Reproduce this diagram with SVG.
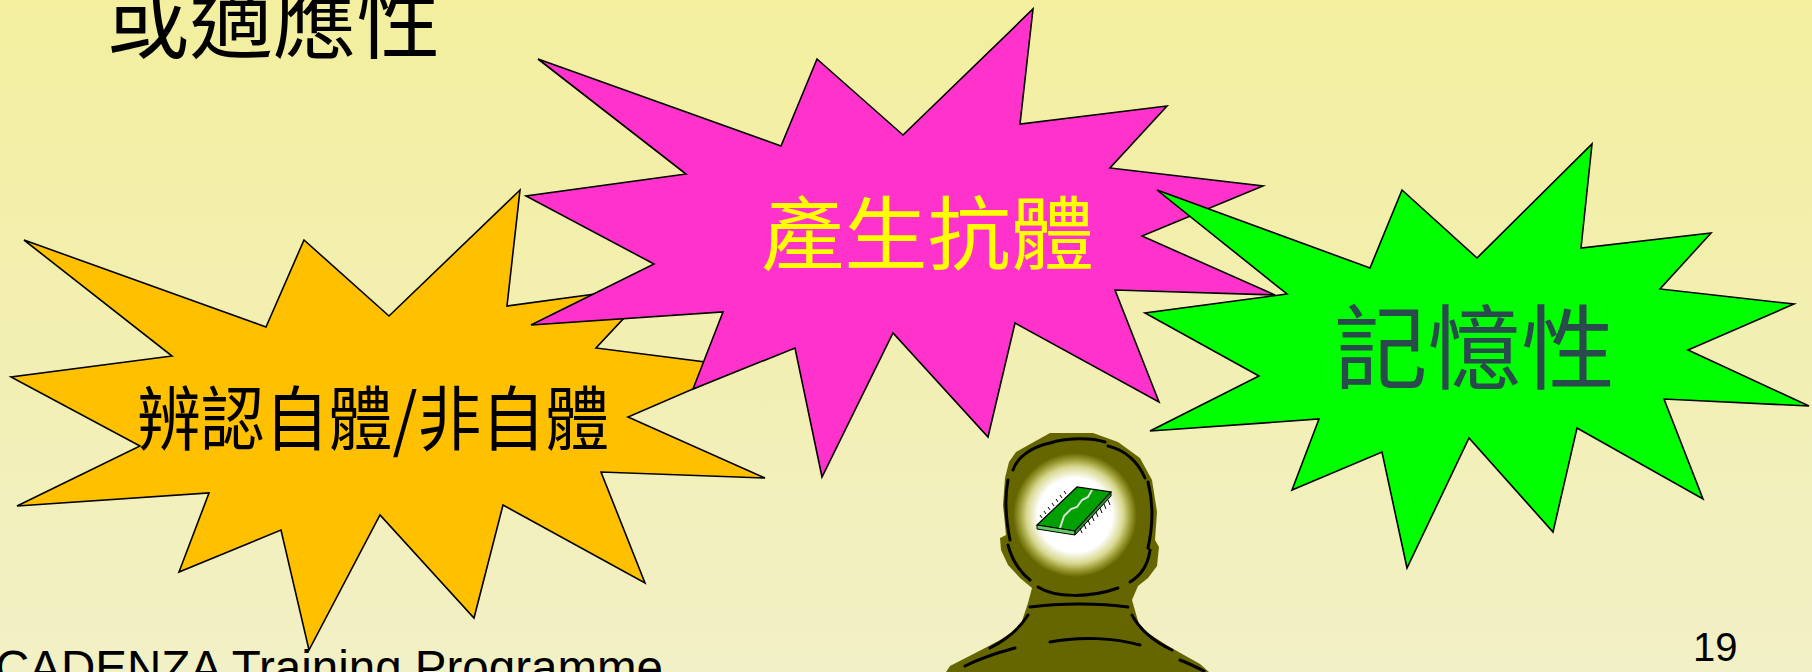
<svg xmlns="http://www.w3.org/2000/svg" width="1812" height="672" viewBox="0 0 1812 672">
  <defs>
    <linearGradient id="bg" x1="0" y1="0" x2="0" y2="1">
      <stop offset="0" stop-color="#F3EF9F"/>
      <stop offset="0.5" stop-color="#F2EFB2"/>
      <stop offset="1" stop-color="#F2F0C6"/>
    </linearGradient>
    <radialGradient id="glow" cx="0.5" cy="0.5" r="0.5">
      <stop offset="0" stop-color="#FFFFFF"/>
      <stop offset="0.6" stop-color="#FFFFFF"/>
      <stop offset="0.78" stop-color="#D8D890"/>
      <stop offset="0.9" stop-color="#9A9A33"/>
      <stop offset="1" stop-color="#666600"/>
    </radialGradient>
    <style>
      .star { stroke: #000; stroke-width: 1.6; stroke-linejoin: miter; }
      .cjk { font-family: "Noto Sans CJK TC", "Noto Sans CJK SC", sans-serif; }
      .ink { fill: none; stroke: #000; stroke-width: 3; stroke-linecap: round; stroke-linejoin: round; }
    </style>
  </defs>

  <!-- page background -->
  <rect x="0" y="0" width="1812" height="672" fill="url(#bg)"/>

  <!-- heading -->
  <text id="title" class="cjk" x="106" y="52" font-size="86" fill="#000" textLength="334" lengthAdjust="spacingAndGlyphs">或適應性</text>

  <!-- orange burst -->
  <g id="node-recognise">
    <polygon class="star" fill="#FFC000" points="24,240 266,327 304,240 389,316 520,190 507,306 654,286 596,348 744,367 628,417 765,478 601,472 645,583 503,505 474,618 380,515 309,650 281,530 179,572 209,493 17,506 140,446 11,377 172,356"/>
    <text class="cjk" x="137" y="445" font-size="70" fill="#000" textLength="472" lengthAdjust="spacingAndGlyphs">辨認自體/非自體</text>
  </g>

  <!-- magenta burst -->
  <g id="node-antibody">
    <polygon class="star" fill="#FF33CC" points="538,59 781,146 817,59 903,135 1033,9 1020,124 1167,106 1110,168 1263,186 1142,236 1275,295 1115,290 1159,402 1015,323 988,437 893,333 822,477 795,348 693,389 723,312 531,325 654,264 526,196 686,174"/>
    <text class="cjk" x="761" y="263" font-size="80" fill="#FFFF00" textLength="333" lengthAdjust="spacingAndGlyphs">產生抗體</text>
  </g>

  <!-- green burst -->
  <g id="node-memory">
    <polygon class="star" fill="#00FF00" points="1157,190 1287,294 1145,313 1259,376 1150,431 1319,419 1292,490 1382,452 1407,568 1469,438 1553,532 1577,428 1703,499 1664,399 1809,406 1688,350 1794,304 1660,289 1711,233 1581,248 1592,144 1477,258 1402,190 1370,268"/>
    <text class="cjk" x="1334" y="382" font-size="92" fill="#2A4B4B" textLength="281" lengthAdjust="spacingAndGlyphs">記憶性</text>
  </g>

  <!-- figure seen from behind, with a chip in the head -->
  <g id="thinker">
    <path fill="#666600" d="M946,672 L950,666 L985,648 L1000,640 L1020,627 L1028,603 L1032,588 L1020,578 L1008,565 L1001,550 L1000,538 L1006,535 L1003,505 L1005,478 L1009,462 L1016,452 L1032,443 L1050,433 L1093,433 L1118,442 L1140,458 L1152,480 L1157,512 L1155,540 L1159,547 L1157,566 L1148,578 L1138,586 L1132,600 L1140,628 L1168,646 L1200,664 L1209,672 Z"/>
    <circle cx="1075" cy="515" r="62" fill="url(#glow)"/>
    <!-- hair and contour strokes -->
    <path class="ink" d="M1013,470 C1018,455 1035,446 1050,443 C1065,438 1090,437 1105,442"/>
    <path class="ink" d="M1108,446 C1125,450 1138,462 1145,478"/>
    <path class="ink" d="M1008,480 C1004,500 1006,520 1010,540"/>
    <path class="ink" d="M1148,482 C1154,505 1152,530 1148,548"/>
    <path class="ink" d="M1008,545 C1012,560 1020,572 1030,580"/>
    <path class="ink" d="M1150,550 C1148,565 1140,576 1130,582"/>
    <path class="ink" d="M1038,587 C1055,598 1090,598 1118,588"/>
    <path class="ink" d="M1030,607 C1060,603 1100,603 1128,607"/>
    <path class="ink" d="M1028,615 C1020,628 1006,640 990,648"/>
    <path class="ink" d="M1132,615 C1140,630 1155,642 1172,650"/>
    <path class="ink" d="M1050,642 C1080,636 1115,638 1140,645"/>
    <path class="ink" d="M965,666 C985,656 1000,652 1015,648"/>
    <path class="ink" d="M1180,660 C1190,664 1198,668 1204,671"/>
    <!-- chip -->
    <g id="chip">
      <polygon points="1037,525 1077,487 1111,492 1075,531" fill="#00A000" stroke="#000" stroke-width="1.2"/>
      <polygon points="1037,525 1075,531 1075,535 1037,529" fill="#66CC66" stroke="#000" stroke-width="1"/>
      <polygon points="1075,531 1111,492 1111,496 1075,535" fill="#338833" stroke="#000" stroke-width="1"/>
      <path d="M1092,490 L1088,497 L1082,500 L1077,507 L1071,509 L1064,516 L1060,528" fill="none" stroke="#DDDDDD" stroke-width="2"/>
      <g stroke="#000" stroke-width="1" fill="none">
        <path d="M1108,500 l2,5 M1104,504 l2,5 M1100,508 l2,5 M1096,512 l2,5 M1092,516 l2,5 M1088,520 l2,5 M1084,524 l2,5 M1080,528 l2,5"/>
        <path d="M1042,518 l-2,-3 M1046,514 l-2,-3 M1050,510 l-2,-3 M1054,506 l-2,-3 M1058,502 l-2,-3 M1062,498 l-2,-3 M1066,494 l-2,-3"/>
      </g>
    </g>
  </g>

  <!-- footer -->
  <text id="footer" x="-5" y="684" font-family="Liberation Sans, sans-serif" font-size="48" fill="#000" textLength="668" lengthAdjust="spacingAndGlyphs">CADENZA Training Programme</text>
  <text id="page-number" x="1693" y="661" font-family="Liberation Sans, sans-serif" font-size="40" fill="#000">19</text>
</svg>
